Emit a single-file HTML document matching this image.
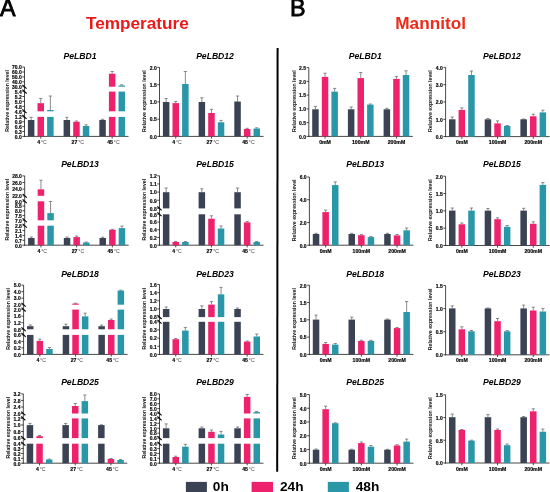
<!DOCTYPE html>
<html><head><meta charset="utf-8"><style>
html,body{margin:0;padding:0;background:#fff;}
svg{display:block;will-change:transform;}
text{font-family:"Liberation Sans",sans-serif;}
.ax{stroke:#1a1a1a;stroke-width:0.8;}
.br{stroke:#000;stroke-width:1.1;}
.eb{stroke:#6e6e6e;stroke-width:0.8;}
.tl{font-size:5px;font-weight:bold;text-anchor:end;fill:#000;stroke:#000;stroke-width:0.15px;}
.xl{font-size:5.2px;font-weight:bold;text-anchor:middle;fill:#000;stroke:#000;stroke-width:0.15px;}
.dg{font-weight:normal;fill:#444;stroke:none;}
.ti{font-size:8.6px;font-weight:bold;font-style:italic;text-anchor:middle;fill:#000;}
.yl{font-size:5.2px;font-weight:bold;text-anchor:middle;fill:#111;}
.hd{font-size:17.2px;font-weight:bold;text-anchor:middle;}
.pl{font-size:23.3px;font-weight:normal;fill:#000;stroke:#000;stroke-width:0.8px;}
.lg{font-size:13.7px;font-weight:bold;fill:#000;}
</style></head><body>
<svg width="550" height="492" viewBox="0 0 550 492">
<rect width="550" height="492" fill="#fff"/>
<text x="-0.1" y="15.6" class="pl">A</text>
<text x="290.1" y="15.7" class="pl">B</text>
<text x="137.4" y="28.9" class="hd" fill="#ea1a1a">Temperature</text>
<text x="430.6" y="28.9" class="hd" fill="#ee2a1a">Mannitol</text>
<line x1="277.6" y1="48" x2="277.2" y2="471.8" stroke="#000" stroke-width="2"/>
<line x1="24.5" y1="136.8" x2="24.5" y2="67.1" class="ax"/>
<line x1="22.4" y1="115" x2="26.6" y2="118.8" class="br"/>
<line x1="22.4" y1="109.4" x2="26.6" y2="113.2" class="br"/>
<line x1="22.4" y1="89.7" x2="26.6" y2="93.5" class="br"/>
<line x1="22.4" y1="84.8" x2="26.6" y2="88.6" class="br"/>
<line x1="22.3" y1="136.4" x2="24.5" y2="136.4" class="ax"/>
<text x="21.7" y="138.7" class="tl">0.0</text>
<line x1="22.3" y1="131.53" x2="24.5" y2="131.53" class="ax"/>
<text x="21.7" y="133.83" class="tl">0.3</text>
<line x1="22.3" y1="126.65" x2="24.5" y2="126.65" class="ax"/>
<text x="21.7" y="128.95" class="tl">0.6</text>
<line x1="22.3" y1="121.78" x2="24.5" y2="121.78" class="ax"/>
<text x="21.7" y="124.08" class="tl">0.9</text>
<line x1="22.3" y1="116.9" x2="24.5" y2="116.9" class="ax"/>
<text x="21.7" y="119.2" class="tl">1.2</text>
<line x1="22.3" y1="111.3" x2="24.5" y2="111.3" class="ax"/>
<text x="21.7" y="113.6" class="tl">4.6</text>
<line x1="22.3" y1="106.38" x2="24.5" y2="106.38" class="ax"/>
<text x="21.7" y="108.67" class="tl">4.8</text>
<line x1="22.3" y1="101.45" x2="24.5" y2="101.45" class="ax"/>
<text x="21.7" y="103.75" class="tl">5.0</text>
<line x1="22.3" y1="96.52" x2="24.5" y2="96.52" class="ax"/>
<text x="21.7" y="98.82" class="tl">5.2</text>
<line x1="22.3" y1="91.6" x2="24.5" y2="91.6" class="ax"/>
<text x="21.7" y="93.9" class="tl">5.4</text>
<line x1="22.3" y1="86.7" x2="24.5" y2="86.7" class="ax"/>
<text x="21.7" y="89" class="tl">30.0</text>
<line x1="22.3" y1="81.8" x2="24.5" y2="81.8" class="ax"/>
<text x="21.7" y="84.1" class="tl">40.0</text>
<line x1="22.3" y1="76.9" x2="24.5" y2="76.9" class="ax"/>
<text x="21.7" y="79.2" class="tl">50.0</text>
<line x1="22.3" y1="72" x2="24.5" y2="72" class="ax"/>
<text x="21.7" y="74.3" class="tl">60.0</text>
<line x1="22.3" y1="67.1" x2="24.5" y2="67.1" class="ax"/>
<text x="21.7" y="69.4" class="tl">70.0</text>
<line x1="24" y1="136.4" x2="128.5" y2="136.4" class="ax"/>
<line x1="40.75" y1="136.4" x2="40.75" y2="138.6" class="ax"/>
<text x="42.05" y="144.3" class="xl">4<tspan class="dg" dx="0.8">°C</tspan></text>
<line x1="76.45" y1="136.4" x2="76.45" y2="138.6" class="ax"/>
<text x="77.75" y="144.3" class="xl">27<tspan class="dg" dx="0.8">°C</tspan></text>
<line x1="112.15" y1="136.4" x2="112.15" y2="138.6" class="ax"/>
<text x="113.45" y="144.3" class="xl">45<tspan class="dg" dx="0.8">°C</tspan></text>
<line x1="31.15" y1="120" x2="31.15" y2="117.3" class="eb"/>
<line x1="29.55" y1="117.3" x2="32.75" y2="117.3" class="eb"/>
<rect x="27.9" y="120" width="6.5" height="16.4" fill="#3a4254"/>
<line x1="40.75" y1="103.2" x2="40.75" y2="98.5" class="eb"/>
<line x1="39.15" y1="98.5" x2="42.35" y2="98.5" class="eb"/>
<rect x="37.5" y="116.9" width="6.5" height="19.5" fill="#ee216c"/>
<rect x="37.5" y="103.2" width="6.5" height="8.1" fill="#ee216c"/>
<line x1="50.35" y1="110" x2="50.35" y2="96" class="eb"/>
<line x1="48.75" y1="96" x2="51.95" y2="96" class="eb"/>
<rect x="47.1" y="116.9" width="6.5" height="19.5" fill="#2a97a9"/>
<rect x="47.1" y="110" width="6.5" height="1.3" fill="#2a97a9"/>
<line x1="66.85" y1="120" x2="66.85" y2="117.3" class="eb"/>
<line x1="65.25" y1="117.3" x2="68.45" y2="117.3" class="eb"/>
<rect x="63.6" y="120" width="6.5" height="16.4" fill="#3a4254"/>
<line x1="76.45" y1="121.8" x2="76.45" y2="121" class="eb"/>
<line x1="74.85" y1="121" x2="78.05" y2="121" class="eb"/>
<rect x="73.2" y="121.8" width="6.5" height="14.6" fill="#ee216c"/>
<line x1="86.05" y1="126" x2="86.05" y2="124.8" class="eb"/>
<line x1="84.45" y1="124.8" x2="87.65" y2="124.8" class="eb"/>
<rect x="82.8" y="126" width="6.5" height="10.4" fill="#2a97a9"/>
<line x1="102.55" y1="120" x2="102.55" y2="119.3" class="eb"/>
<line x1="100.95" y1="119.3" x2="104.15" y2="119.3" class="eb"/>
<rect x="99.3" y="120" width="6.5" height="16.4" fill="#3a4254"/>
<line x1="112.15" y1="73.7" x2="112.15" y2="71.5" class="eb"/>
<line x1="110.55" y1="71.5" x2="113.75" y2="71.5" class="eb"/>
<rect x="108.9" y="116.9" width="6.5" height="19.5" fill="#ee216c"/>
<rect x="108.9" y="91.6" width="6.5" height="19.7" fill="#ee216c"/>
<rect x="108.9" y="73.7" width="6.5" height="13" fill="#ee216c"/>
<line x1="121.75" y1="85.5" x2="121.75" y2="84.8" class="eb"/>
<line x1="120.15" y1="84.8" x2="123.35" y2="84.8" class="eb"/>
<rect x="118.5" y="116.9" width="6.5" height="19.5" fill="#2a97a9"/>
<rect x="118.5" y="91.6" width="6.5" height="19.7" fill="#2a97a9"/>
<rect x="118.5" y="85.5" width="6.5" height="1.2" fill="#2a97a9"/>
<text x="80" y="58.8" class="ti">PeLBD1</text>
<text transform="translate(9,100.95) rotate(-90)" class="yl">Relative expression level</text>
<line x1="159.5" y1="136.8" x2="159.5" y2="67.4" class="ax"/>
<line x1="157.3" y1="136.4" x2="159.5" y2="136.4" class="ax"/>
<text x="156.7" y="138.7" class="tl">0.0</text>
<line x1="157.3" y1="119.15" x2="159.5" y2="119.15" class="ax"/>
<text x="156.7" y="121.45" class="tl">0.5</text>
<line x1="157.3" y1="101.9" x2="159.5" y2="101.9" class="ax"/>
<text x="156.7" y="104.2" class="tl">1.0</text>
<line x1="157.3" y1="84.65" x2="159.5" y2="84.65" class="ax"/>
<text x="156.7" y="86.95" class="tl">1.5</text>
<line x1="157.3" y1="67.4" x2="159.5" y2="67.4" class="ax"/>
<text x="156.7" y="69.7" class="tl">2.0</text>
<line x1="159" y1="136.4" x2="263.5" y2="136.4" class="ax"/>
<line x1="175.75" y1="136.4" x2="175.75" y2="138.6" class="ax"/>
<text x="177.05" y="144.3" class="xl">4<tspan class="dg" dx="0.8">°C</tspan></text>
<line x1="211.45" y1="136.4" x2="211.45" y2="138.6" class="ax"/>
<text x="212.75" y="144.3" class="xl">27<tspan class="dg" dx="0.8">°C</tspan></text>
<line x1="247.15" y1="136.4" x2="247.15" y2="138.6" class="ax"/>
<text x="248.45" y="144.3" class="xl">45<tspan class="dg" dx="0.8">°C</tspan></text>
<line x1="166.15" y1="102" x2="166.15" y2="98.5" class="eb"/>
<line x1="164.55" y1="98.5" x2="167.75" y2="98.5" class="eb"/>
<rect x="162.9" y="102" width="6.5" height="34.4" fill="#3a4254"/>
<line x1="175.75" y1="103.1" x2="175.75" y2="101.5" class="eb"/>
<line x1="174.15" y1="101.5" x2="177.35" y2="101.5" class="eb"/>
<rect x="172.5" y="103.1" width="6.5" height="33.3" fill="#ee216c"/>
<line x1="185.35" y1="84" x2="185.35" y2="71.5" class="eb"/>
<line x1="183.75" y1="71.5" x2="186.95" y2="71.5" class="eb"/>
<rect x="182.1" y="84" width="6.5" height="52.4" fill="#2a97a9"/>
<line x1="201.85" y1="102" x2="201.85" y2="97.8" class="eb"/>
<line x1="200.25" y1="97.8" x2="203.45" y2="97.8" class="eb"/>
<rect x="198.6" y="102" width="6.5" height="34.4" fill="#3a4254"/>
<line x1="211.45" y1="113" x2="211.45" y2="109.3" class="eb"/>
<line x1="209.85" y1="109.3" x2="213.05" y2="109.3" class="eb"/>
<rect x="208.2" y="113" width="6.5" height="23.4" fill="#ee216c"/>
<line x1="221.05" y1="122.3" x2="221.05" y2="120.4" class="eb"/>
<line x1="219.45" y1="120.4" x2="222.65" y2="120.4" class="eb"/>
<rect x="217.8" y="122.3" width="6.5" height="14.1" fill="#2a97a9"/>
<line x1="237.55" y1="101.5" x2="237.55" y2="96" class="eb"/>
<line x1="235.95" y1="96" x2="239.15" y2="96" class="eb"/>
<rect x="234.3" y="101.5" width="6.5" height="34.9" fill="#3a4254"/>
<line x1="247.15" y1="129" x2="247.15" y2="128.3" class="eb"/>
<line x1="245.55" y1="128.3" x2="248.75" y2="128.3" class="eb"/>
<rect x="243.9" y="129" width="6.5" height="7.4" fill="#ee216c"/>
<line x1="256.75" y1="128.5" x2="256.75" y2="127.8" class="eb"/>
<line x1="255.15" y1="127.8" x2="258.35" y2="127.8" class="eb"/>
<rect x="253.5" y="128.5" width="6.5" height="7.9" fill="#2a97a9"/>
<text x="215" y="58.8" class="ti">PeLBD12</text>
<text transform="translate(146.2,101.1) rotate(-90)" class="yl">Relative expression level</text>
<line x1="308.8" y1="136.8" x2="308.8" y2="67.6" class="ax"/>
<line x1="306.6" y1="136.4" x2="308.8" y2="136.4" class="ax"/>
<text x="306" y="138.7" class="tl">0.0</text>
<line x1="306.6" y1="122.64" x2="308.8" y2="122.64" class="ax"/>
<text x="306" y="124.94" class="tl">0.5</text>
<line x1="306.6" y1="108.88" x2="308.8" y2="108.88" class="ax"/>
<text x="306" y="111.18" class="tl">1.0</text>
<line x1="306.6" y1="95.12" x2="308.8" y2="95.12" class="ax"/>
<text x="306" y="97.42" class="tl">1.5</text>
<line x1="306.6" y1="81.36" x2="308.8" y2="81.36" class="ax"/>
<text x="306" y="83.66" class="tl">2.0</text>
<line x1="306.6" y1="67.6" x2="308.8" y2="67.6" class="ax"/>
<text x="306" y="69.9" class="tl">2.5</text>
<line x1="308.3" y1="136.4" x2="412.8" y2="136.4" class="ax"/>
<line x1="325.05" y1="136.4" x2="325.05" y2="138.6" class="ax"/>
<text x="325.05" y="144" class="xl">0mM</text>
<line x1="360.75" y1="136.4" x2="360.75" y2="138.6" class="ax"/>
<text x="360.75" y="144" class="xl">100mM</text>
<line x1="396.45" y1="136.4" x2="396.45" y2="138.6" class="ax"/>
<text x="396.45" y="144" class="xl">200mM</text>
<line x1="315.45" y1="109.3" x2="315.45" y2="106.4" class="eb"/>
<line x1="313.85" y1="106.4" x2="317.05" y2="106.4" class="eb"/>
<rect x="312.2" y="109.3" width="6.5" height="27.1" fill="#3a4254"/>
<line x1="325.05" y1="76.9" x2="325.05" y2="73.2" class="eb"/>
<line x1="323.45" y1="73.2" x2="326.65" y2="73.2" class="eb"/>
<rect x="321.8" y="76.9" width="6.5" height="59.5" fill="#ee216c"/>
<line x1="334.65" y1="91.6" x2="334.65" y2="88.4" class="eb"/>
<line x1="333.05" y1="88.4" x2="336.25" y2="88.4" class="eb"/>
<rect x="331.4" y="91.6" width="6.5" height="44.8" fill="#2a97a9"/>
<line x1="351.15" y1="109.3" x2="351.15" y2="107" class="eb"/>
<line x1="349.55" y1="107" x2="352.75" y2="107" class="eb"/>
<rect x="347.9" y="109.3" width="6.5" height="27.1" fill="#3a4254"/>
<line x1="360.75" y1="78.1" x2="360.75" y2="72.5" class="eb"/>
<line x1="359.15" y1="72.5" x2="362.35" y2="72.5" class="eb"/>
<rect x="357.5" y="78.1" width="6.5" height="58.3" fill="#ee216c"/>
<line x1="370.35" y1="104.6" x2="370.35" y2="104" class="eb"/>
<line x1="368.75" y1="104" x2="371.95" y2="104" class="eb"/>
<rect x="367.1" y="104.6" width="6.5" height="31.8" fill="#2a97a9"/>
<line x1="386.85" y1="109.3" x2="386.85" y2="108.3" class="eb"/>
<line x1="385.25" y1="108.3" x2="388.45" y2="108.3" class="eb"/>
<rect x="383.6" y="109.3" width="6.5" height="27.1" fill="#3a4254"/>
<line x1="396.45" y1="78.9" x2="396.45" y2="76.4" class="eb"/>
<line x1="394.85" y1="76.4" x2="398.05" y2="76.4" class="eb"/>
<rect x="393.2" y="78.9" width="6.5" height="57.5" fill="#ee216c"/>
<line x1="406.05" y1="75" x2="406.05" y2="70.8" class="eb"/>
<line x1="404.45" y1="70.8" x2="407.65" y2="70.8" class="eb"/>
<rect x="402.8" y="75" width="6.5" height="61.4" fill="#2a97a9"/>
<text x="365.2" y="58.8" class="ti">PeLBD1</text>
<text transform="translate(295.5,101.2) rotate(-90)" class="yl">Relative expression level</text>
<line x1="445.6" y1="137" x2="445.6" y2="67.4" class="ax"/>
<line x1="443.4" y1="136.6" x2="445.6" y2="136.6" class="ax"/>
<text x="442.8" y="138.9" class="tl">0.0</text>
<line x1="443.4" y1="119.3" x2="445.6" y2="119.3" class="ax"/>
<text x="442.8" y="121.6" class="tl">1.0</text>
<line x1="443.4" y1="102" x2="445.6" y2="102" class="ax"/>
<text x="442.8" y="104.3" class="tl">2.0</text>
<line x1="443.4" y1="84.7" x2="445.6" y2="84.7" class="ax"/>
<text x="442.8" y="87" class="tl">3.0</text>
<line x1="443.4" y1="67.4" x2="445.6" y2="67.4" class="ax"/>
<text x="442.8" y="69.7" class="tl">4.0</text>
<line x1="445.1" y1="136.6" x2="549.6" y2="136.6" class="ax"/>
<line x1="461.85" y1="136.6" x2="461.85" y2="138.8" class="ax"/>
<text x="461.85" y="144.2" class="xl">0mM</text>
<line x1="497.55" y1="136.6" x2="497.55" y2="138.8" class="ax"/>
<text x="497.55" y="144.2" class="xl">100mM</text>
<line x1="533.25" y1="136.6" x2="533.25" y2="138.8" class="ax"/>
<text x="533.25" y="144.2" class="xl">200mM</text>
<line x1="452.25" y1="119.3" x2="452.25" y2="117" class="eb"/>
<line x1="450.65" y1="117" x2="453.85" y2="117" class="eb"/>
<rect x="449" y="119.3" width="6.5" height="17.3" fill="#3a4254"/>
<line x1="461.85" y1="109.9" x2="461.85" y2="107.9" class="eb"/>
<line x1="460.25" y1="107.9" x2="463.45" y2="107.9" class="eb"/>
<rect x="458.6" y="109.9" width="6.5" height="26.7" fill="#ee216c"/>
<line x1="471.45" y1="75" x2="471.45" y2="71" class="eb"/>
<line x1="469.85" y1="71" x2="473.05" y2="71" class="eb"/>
<rect x="468.2" y="75" width="6.5" height="61.6" fill="#2a97a9"/>
<line x1="487.95" y1="119.3" x2="487.95" y2="118.5" class="eb"/>
<line x1="486.35" y1="118.5" x2="489.55" y2="118.5" class="eb"/>
<rect x="484.7" y="119.3" width="6.5" height="17.3" fill="#3a4254"/>
<line x1="497.55" y1="123.4" x2="497.55" y2="120.9" class="eb"/>
<line x1="495.95" y1="120.9" x2="499.15" y2="120.9" class="eb"/>
<rect x="494.3" y="123.4" width="6.5" height="13.2" fill="#ee216c"/>
<line x1="507.15" y1="125.9" x2="507.15" y2="125.5" class="eb"/>
<line x1="505.55" y1="125.5" x2="508.75" y2="125.5" class="eb"/>
<rect x="503.9" y="125.9" width="6.5" height="10.7" fill="#2a97a9"/>
<line x1="523.65" y1="119.3" x2="523.65" y2="119" class="eb"/>
<line x1="522.05" y1="119" x2="525.25" y2="119" class="eb"/>
<rect x="520.4" y="119.3" width="6.5" height="17.3" fill="#3a4254"/>
<line x1="533.25" y1="116.3" x2="533.25" y2="114.2" class="eb"/>
<line x1="531.65" y1="114.2" x2="534.85" y2="114.2" class="eb"/>
<rect x="530" y="116.3" width="6.5" height="20.3" fill="#ee216c"/>
<line x1="542.85" y1="112.4" x2="542.85" y2="110.2" class="eb"/>
<line x1="541.25" y1="110.2" x2="544.45" y2="110.2" class="eb"/>
<rect x="539.6" y="112.4" width="6.5" height="24.2" fill="#2a97a9"/>
<text x="501.9" y="58.8" class="ti">PeLBD12</text>
<text transform="translate(432.3,101.2) rotate(-90)" class="yl">Relative expression level</text>
<line x1="24.7" y1="245.6" x2="24.7" y2="175.9" class="ax"/>
<line x1="22.6" y1="223.8" x2="26.8" y2="227.6" class="br"/>
<line x1="22.6" y1="218.4" x2="26.8" y2="222.2" class="br"/>
<line x1="22.6" y1="199.4" x2="26.8" y2="203.2" class="br"/>
<line x1="22.6" y1="193.9" x2="26.8" y2="197.7" class="br"/>
<line x1="22.5" y1="245.2" x2="24.7" y2="245.2" class="ax"/>
<text x="21.9" y="247.5" class="tl">0.0</text>
<line x1="22.5" y1="240.32" x2="24.7" y2="240.32" class="ax"/>
<text x="21.9" y="242.62" class="tl">0.7</text>
<line x1="22.5" y1="235.45" x2="24.7" y2="235.45" class="ax"/>
<text x="21.9" y="237.75" class="tl">1.4</text>
<line x1="22.5" y1="230.57" x2="24.7" y2="230.57" class="ax"/>
<text x="21.9" y="232.88" class="tl">2.1</text>
<line x1="22.5" y1="225.7" x2="24.7" y2="225.7" class="ax"/>
<text x="21.9" y="228" class="tl">2.8</text>
<line x1="22.5" y1="220.3" x2="24.7" y2="220.3" class="ax"/>
<text x="21.9" y="222.6" class="tl">7.0</text>
<line x1="22.5" y1="215.55" x2="24.7" y2="215.55" class="ax"/>
<text x="21.9" y="217.85" class="tl">7.5</text>
<line x1="22.5" y1="210.8" x2="24.7" y2="210.8" class="ax"/>
<text x="21.9" y="213.1" class="tl">8.0</text>
<line x1="22.5" y1="206.05" x2="24.7" y2="206.05" class="ax"/>
<text x="21.9" y="208.35" class="tl">8.5</text>
<line x1="22.5" y1="201.3" x2="24.7" y2="201.3" class="ax"/>
<text x="21.9" y="203.6" class="tl">9.0</text>
<line x1="22.5" y1="195.8" x2="24.7" y2="195.8" class="ax"/>
<text x="21.9" y="198.1" class="tl">22.0</text>
<line x1="22.5" y1="189.17" x2="24.7" y2="189.17" class="ax"/>
<text x="21.9" y="191.47" class="tl">24.0</text>
<line x1="22.5" y1="182.53" x2="24.7" y2="182.53" class="ax"/>
<text x="21.9" y="184.83" class="tl">26.0</text>
<line x1="22.5" y1="175.9" x2="24.7" y2="175.9" class="ax"/>
<text x="21.9" y="178.2" class="tl">28.0</text>
<line x1="24.2" y1="245.2" x2="128.7" y2="245.2" class="ax"/>
<line x1="40.95" y1="245.2" x2="40.95" y2="247.4" class="ax"/>
<text x="42.25" y="253.1" class="xl">4<tspan class="dg" dx="0.8">°C</tspan></text>
<line x1="76.65" y1="245.2" x2="76.65" y2="247.4" class="ax"/>
<text x="77.95" y="253.1" class="xl">27<tspan class="dg" dx="0.8">°C</tspan></text>
<line x1="112.35" y1="245.2" x2="112.35" y2="247.4" class="ax"/>
<text x="113.65" y="253.1" class="xl">45<tspan class="dg" dx="0.8">°C</tspan></text>
<line x1="31.35" y1="238" x2="31.35" y2="237" class="eb"/>
<line x1="29.75" y1="237" x2="32.95" y2="237" class="eb"/>
<rect x="28.1" y="238" width="6.5" height="7.2" fill="#3a4254"/>
<line x1="40.95" y1="189.3" x2="40.95" y2="180.2" class="eb"/>
<line x1="39.35" y1="180.2" x2="42.55" y2="180.2" class="eb"/>
<rect x="37.7" y="225.7" width="6.5" height="19.5" fill="#ee216c"/>
<rect x="37.7" y="201.3" width="6.5" height="19" fill="#ee216c"/>
<rect x="37.7" y="189.3" width="6.5" height="6.5" fill="#ee216c"/>
<line x1="50.55" y1="213.1" x2="50.55" y2="201.5" class="eb"/>
<line x1="48.95" y1="201.5" x2="52.15" y2="201.5" class="eb"/>
<rect x="47.3" y="225.7" width="6.5" height="19.5" fill="#2a97a9"/>
<rect x="47.3" y="213.1" width="6.5" height="7.2" fill="#2a97a9"/>
<line x1="67.05" y1="238" x2="67.05" y2="237" class="eb"/>
<line x1="65.45" y1="237" x2="68.65" y2="237" class="eb"/>
<rect x="63.8" y="238" width="6.5" height="7.2" fill="#3a4254"/>
<line x1="76.65" y1="237.1" x2="76.65" y2="236" class="eb"/>
<line x1="75.05" y1="236" x2="78.25" y2="236" class="eb"/>
<rect x="73.4" y="237.1" width="6.5" height="8.1" fill="#ee216c"/>
<line x1="86.25" y1="242.5" x2="86.25" y2="242" class="eb"/>
<line x1="84.65" y1="242" x2="87.85" y2="242" class="eb"/>
<rect x="83" y="242.5" width="6.5" height="2.7" fill="#2a97a9"/>
<line x1="102.75" y1="238" x2="102.75" y2="237.2" class="eb"/>
<line x1="101.15" y1="237.2" x2="104.35" y2="237.2" class="eb"/>
<rect x="99.5" y="238" width="6.5" height="7.2" fill="#3a4254"/>
<line x1="112.35" y1="229.8" x2="112.35" y2="229.3" class="eb"/>
<line x1="110.75" y1="229.3" x2="113.95" y2="229.3" class="eb"/>
<rect x="109.1" y="229.8" width="6.5" height="15.4" fill="#ee216c"/>
<line x1="121.95" y1="228.1" x2="121.95" y2="226.1" class="eb"/>
<line x1="120.35" y1="226.1" x2="123.55" y2="226.1" class="eb"/>
<rect x="118.7" y="228.1" width="6.5" height="17.1" fill="#2a97a9"/>
<text x="80" y="167.3" class="ti">PeLBD13</text>
<text transform="translate(9.2,209.75) rotate(-90)" class="yl">Relative expression level</text>
<line x1="159.5" y1="245.6" x2="159.5" y2="175.8" class="ax"/>
<line x1="157.4" y1="212.4" x2="161.6" y2="216.2" class="br"/>
<line x1="157.4" y1="206.5" x2="161.6" y2="210.3" class="br"/>
<line x1="157.3" y1="245.2" x2="159.5" y2="245.2" class="ax"/>
<text x="156.7" y="247.5" class="tl">0.0</text>
<line x1="157.3" y1="237.47" x2="159.5" y2="237.47" class="ax"/>
<text x="156.7" y="239.78" class="tl">0.2</text>
<line x1="157.3" y1="229.75" x2="159.5" y2="229.75" class="ax"/>
<text x="156.7" y="232.05" class="tl">0.4</text>
<line x1="157.3" y1="222.03" x2="159.5" y2="222.03" class="ax"/>
<text x="156.7" y="224.33" class="tl">0.6</text>
<line x1="157.3" y1="214.3" x2="159.5" y2="214.3" class="ax"/>
<text x="156.7" y="216.6" class="tl">0.8</text>
<line x1="157.3" y1="208.4" x2="159.5" y2="208.4" class="ax"/>
<text x="156.7" y="210.7" class="tl">0.8</text>
<line x1="157.3" y1="200.25" x2="159.5" y2="200.25" class="ax"/>
<text x="156.7" y="202.55" class="tl">0.9</text>
<line x1="157.3" y1="192.1" x2="159.5" y2="192.1" class="ax"/>
<text x="156.7" y="194.4" class="tl">1.0</text>
<line x1="157.3" y1="183.95" x2="159.5" y2="183.95" class="ax"/>
<text x="156.7" y="186.25" class="tl">1.1</text>
<line x1="157.3" y1="175.8" x2="159.5" y2="175.8" class="ax"/>
<text x="156.7" y="178.1" class="tl">1.2</text>
<line x1="159" y1="245.2" x2="263.5" y2="245.2" class="ax"/>
<line x1="175.75" y1="245.2" x2="175.75" y2="247.4" class="ax"/>
<text x="177.05" y="253.1" class="xl">4<tspan class="dg" dx="0.8">°C</tspan></text>
<line x1="211.45" y1="245.2" x2="211.45" y2="247.4" class="ax"/>
<text x="212.75" y="253.1" class="xl">27<tspan class="dg" dx="0.8">°C</tspan></text>
<line x1="247.15" y1="245.2" x2="247.15" y2="247.4" class="ax"/>
<text x="248.45" y="253.1" class="xl">45<tspan class="dg" dx="0.8">°C</tspan></text>
<line x1="166.15" y1="192.2" x2="166.15" y2="188" class="eb"/>
<line x1="164.55" y1="188" x2="167.75" y2="188" class="eb"/>
<rect x="162.9" y="214.3" width="6.5" height="30.9" fill="#3a4254"/>
<rect x="162.9" y="192.2" width="6.5" height="16.2" fill="#3a4254"/>
<line x1="175.75" y1="242" x2="175.75" y2="241.5" class="eb"/>
<line x1="174.15" y1="241.5" x2="177.35" y2="241.5" class="eb"/>
<rect x="172.5" y="242" width="6.5" height="3.2" fill="#ee216c"/>
<line x1="185.35" y1="242" x2="185.35" y2="241.5" class="eb"/>
<line x1="183.75" y1="241.5" x2="186.95" y2="241.5" class="eb"/>
<rect x="182.1" y="242" width="6.5" height="3.2" fill="#2a97a9"/>
<line x1="201.85" y1="192.2" x2="201.85" y2="188.8" class="eb"/>
<line x1="200.25" y1="188.8" x2="203.45" y2="188.8" class="eb"/>
<rect x="198.6" y="214.3" width="6.5" height="30.9" fill="#3a4254"/>
<rect x="198.6" y="192.2" width="6.5" height="16.2" fill="#3a4254"/>
<line x1="211.45" y1="218.7" x2="211.45" y2="215.8" class="eb"/>
<line x1="209.85" y1="215.8" x2="213.05" y2="215.8" class="eb"/>
<rect x="208.2" y="218.7" width="6.5" height="26.5" fill="#ee216c"/>
<line x1="221.05" y1="228.5" x2="221.05" y2="226" class="eb"/>
<line x1="219.45" y1="226" x2="222.65" y2="226" class="eb"/>
<rect x="217.8" y="228.5" width="6.5" height="16.7" fill="#2a97a9"/>
<line x1="237.55" y1="192.2" x2="237.55" y2="188" class="eb"/>
<line x1="235.95" y1="188" x2="239.15" y2="188" class="eb"/>
<rect x="234.3" y="214.3" width="6.5" height="30.9" fill="#3a4254"/>
<rect x="234.3" y="192.2" width="6.5" height="16.2" fill="#3a4254"/>
<line x1="247.15" y1="222.4" x2="247.15" y2="221.5" class="eb"/>
<line x1="245.55" y1="221.5" x2="248.75" y2="221.5" class="eb"/>
<rect x="243.9" y="222.4" width="6.5" height="22.8" fill="#ee216c"/>
<line x1="256.75" y1="242" x2="256.75" y2="241.5" class="eb"/>
<line x1="255.15" y1="241.5" x2="258.35" y2="241.5" class="eb"/>
<rect x="253.5" y="242" width="6.5" height="3.2" fill="#2a97a9"/>
<text x="215" y="167.3" class="ti">PeLBD15</text>
<text transform="translate(146.2,209.7) rotate(-90)" class="yl">Relative expression level</text>
<line x1="309.4" y1="245.6" x2="309.4" y2="177" class="ax"/>
<line x1="307.2" y1="245.2" x2="309.4" y2="245.2" class="ax"/>
<text x="306.6" y="247.5" class="tl">0.0</text>
<line x1="307.2" y1="222.47" x2="309.4" y2="222.47" class="ax"/>
<text x="306.6" y="224.77" class="tl">2.0</text>
<line x1="307.2" y1="199.73" x2="309.4" y2="199.73" class="ax"/>
<text x="306.6" y="202.03" class="tl">4.0</text>
<line x1="307.2" y1="177" x2="309.4" y2="177" class="ax"/>
<text x="306.6" y="179.3" class="tl">6.0</text>
<line x1="308.9" y1="245.2" x2="413.4" y2="245.2" class="ax"/>
<line x1="325.65" y1="245.2" x2="325.65" y2="247.4" class="ax"/>
<text x="325.65" y="252.8" class="xl">0mM</text>
<line x1="361.35" y1="245.2" x2="361.35" y2="247.4" class="ax"/>
<text x="361.35" y="252.8" class="xl">100mM</text>
<line x1="397.05" y1="245.2" x2="397.05" y2="247.4" class="ax"/>
<text x="397.05" y="252.8" class="xl">200mM</text>
<line x1="316.05" y1="234" x2="316.05" y2="233.3" class="eb"/>
<line x1="314.45" y1="233.3" x2="317.65" y2="233.3" class="eb"/>
<rect x="312.8" y="234" width="6.5" height="11.2" fill="#3a4254"/>
<line x1="325.65" y1="212.1" x2="325.65" y2="210.1" class="eb"/>
<line x1="324.05" y1="210.1" x2="327.25" y2="210.1" class="eb"/>
<rect x="322.4" y="212.1" width="6.5" height="33.1" fill="#ee216c"/>
<line x1="335.25" y1="185.1" x2="335.25" y2="181.9" class="eb"/>
<line x1="333.65" y1="181.9" x2="336.85" y2="181.9" class="eb"/>
<rect x="332" y="185.1" width="6.5" height="60.1" fill="#2a97a9"/>
<line x1="351.75" y1="234" x2="351.75" y2="233.3" class="eb"/>
<line x1="350.15" y1="233.3" x2="353.35" y2="233.3" class="eb"/>
<rect x="348.5" y="234" width="6.5" height="11.2" fill="#3a4254"/>
<line x1="361.35" y1="235.2" x2="361.35" y2="234.6" class="eb"/>
<line x1="359.75" y1="234.6" x2="362.95" y2="234.6" class="eb"/>
<rect x="358.1" y="235.2" width="6.5" height="10" fill="#ee216c"/>
<line x1="370.95" y1="237.1" x2="370.95" y2="236.5" class="eb"/>
<line x1="369.35" y1="236.5" x2="372.55" y2="236.5" class="eb"/>
<rect x="367.7" y="237.1" width="6.5" height="8.1" fill="#2a97a9"/>
<line x1="387.45" y1="234" x2="387.45" y2="233.3" class="eb"/>
<line x1="385.85" y1="233.3" x2="389.05" y2="233.3" class="eb"/>
<rect x="384.2" y="234" width="6.5" height="11.2" fill="#3a4254"/>
<line x1="397.05" y1="235.4" x2="397.05" y2="234.5" class="eb"/>
<line x1="395.45" y1="234.5" x2="398.65" y2="234.5" class="eb"/>
<rect x="393.8" y="235.4" width="6.5" height="9.8" fill="#ee216c"/>
<line x1="406.65" y1="230.3" x2="406.65" y2="228" class="eb"/>
<line x1="405.05" y1="228" x2="408.25" y2="228" class="eb"/>
<rect x="403.4" y="230.3" width="6.5" height="14.9" fill="#2a97a9"/>
<text x="365.2" y="167.3" class="ti">PeLBD13</text>
<text transform="translate(296.1,210.3) rotate(-90)" class="yl">Relative expression level</text>
<line x1="445.6" y1="245.9" x2="445.6" y2="176.2" class="ax"/>
<line x1="443.4" y1="245.5" x2="445.6" y2="245.5" class="ax"/>
<text x="442.8" y="247.8" class="tl">0.0</text>
<line x1="443.4" y1="228.18" x2="445.6" y2="228.18" class="ax"/>
<text x="442.8" y="230.48" class="tl">0.5</text>
<line x1="443.4" y1="210.85" x2="445.6" y2="210.85" class="ax"/>
<text x="442.8" y="213.15" class="tl">1.0</text>
<line x1="443.4" y1="193.52" x2="445.6" y2="193.52" class="ax"/>
<text x="442.8" y="195.82" class="tl">1.5</text>
<line x1="443.4" y1="176.2" x2="445.6" y2="176.2" class="ax"/>
<text x="442.8" y="178.5" class="tl">2.0</text>
<line x1="445.1" y1="245.5" x2="549.6" y2="245.5" class="ax"/>
<line x1="461.85" y1="245.5" x2="461.85" y2="247.7" class="ax"/>
<text x="461.85" y="253.1" class="xl">0mM</text>
<line x1="497.55" y1="245.5" x2="497.55" y2="247.7" class="ax"/>
<text x="497.55" y="253.1" class="xl">100mM</text>
<line x1="533.25" y1="245.5" x2="533.25" y2="247.7" class="ax"/>
<text x="533.25" y="253.1" class="xl">200mM</text>
<line x1="452.25" y1="210.6" x2="452.25" y2="208" class="eb"/>
<line x1="450.65" y1="208" x2="453.85" y2="208" class="eb"/>
<rect x="449" y="210.6" width="6.5" height="34.9" fill="#3a4254"/>
<line x1="461.85" y1="224.3" x2="461.85" y2="223" class="eb"/>
<line x1="460.25" y1="223" x2="463.45" y2="223" class="eb"/>
<rect x="458.6" y="224.3" width="6.5" height="21.2" fill="#ee216c"/>
<line x1="471.45" y1="210.6" x2="471.45" y2="208" class="eb"/>
<line x1="469.85" y1="208" x2="473.05" y2="208" class="eb"/>
<rect x="468.2" y="210.6" width="6.5" height="34.9" fill="#2a97a9"/>
<line x1="487.95" y1="210.6" x2="487.95" y2="208.5" class="eb"/>
<line x1="486.35" y1="208.5" x2="489.55" y2="208.5" class="eb"/>
<rect x="484.7" y="210.6" width="6.5" height="34.9" fill="#3a4254"/>
<line x1="497.55" y1="219.2" x2="497.55" y2="217.8" class="eb"/>
<line x1="495.95" y1="217.8" x2="499.15" y2="217.8" class="eb"/>
<rect x="494.3" y="219.2" width="6.5" height="26.3" fill="#ee216c"/>
<line x1="507.15" y1="226.8" x2="507.15" y2="225.5" class="eb"/>
<line x1="505.55" y1="225.5" x2="508.75" y2="225.5" class="eb"/>
<rect x="503.9" y="226.8" width="6.5" height="18.7" fill="#2a97a9"/>
<line x1="523.65" y1="210.6" x2="523.65" y2="208.3" class="eb"/>
<line x1="522.05" y1="208.3" x2="525.25" y2="208.3" class="eb"/>
<rect x="520.4" y="210.6" width="6.5" height="34.9" fill="#3a4254"/>
<line x1="533.25" y1="223.8" x2="533.25" y2="221.8" class="eb"/>
<line x1="531.65" y1="221.8" x2="534.85" y2="221.8" class="eb"/>
<rect x="530" y="223.8" width="6.5" height="21.7" fill="#ee216c"/>
<line x1="542.85" y1="184.9" x2="542.85" y2="182.6" class="eb"/>
<line x1="541.25" y1="182.6" x2="544.45" y2="182.6" class="eb"/>
<rect x="539.6" y="184.9" width="6.5" height="60.6" fill="#2a97a9"/>
<text x="501.9" y="167.3" class="ti">PeLBD15</text>
<text transform="translate(432.3,210.05) rotate(-90)" class="yl">Relative expression level</text>
<line x1="23.6" y1="354.8" x2="23.6" y2="285.1" class="ax"/>
<line x1="21.5" y1="333" x2="25.7" y2="336.8" class="br"/>
<line x1="21.5" y1="327.4" x2="25.7" y2="331.2" class="br"/>
<line x1="21.5" y1="307.7" x2="25.7" y2="311.5" class="br"/>
<line x1="21.5" y1="302.8" x2="25.7" y2="306.6" class="br"/>
<line x1="21.4" y1="354.4" x2="23.6" y2="354.4" class="ax"/>
<text x="20.8" y="356.7" class="tl">0.0</text>
<line x1="21.4" y1="347.9" x2="23.6" y2="347.9" class="ax"/>
<text x="20.8" y="350.2" class="tl">0.2</text>
<line x1="21.4" y1="341.4" x2="23.6" y2="341.4" class="ax"/>
<text x="20.8" y="343.7" class="tl">0.4</text>
<line x1="21.4" y1="334.9" x2="23.6" y2="334.9" class="ax"/>
<text x="20.8" y="337.2" class="tl">0.6</text>
<line x1="21.4" y1="329.3" x2="23.6" y2="329.3" class="ax"/>
<text x="20.8" y="331.6" class="tl">0.8</text>
<line x1="21.4" y1="322.73" x2="23.6" y2="322.73" class="ax"/>
<text x="20.8" y="325.03" class="tl">1.2</text>
<line x1="21.4" y1="316.17" x2="23.6" y2="316.17" class="ax"/>
<text x="20.8" y="318.47" class="tl">1.6</text>
<line x1="21.4" y1="309.6" x2="23.6" y2="309.6" class="ax"/>
<text x="20.8" y="311.9" class="tl">2.0</text>
<line x1="21.4" y1="304.7" x2="23.6" y2="304.7" class="ax"/>
<text x="20.8" y="307" class="tl">2.0</text>
<line x1="21.4" y1="298.17" x2="23.6" y2="298.17" class="ax"/>
<text x="20.8" y="300.47" class="tl">3.0</text>
<line x1="21.4" y1="291.63" x2="23.6" y2="291.63" class="ax"/>
<text x="20.8" y="293.93" class="tl">4.0</text>
<line x1="21.4" y1="285.1" x2="23.6" y2="285.1" class="ax"/>
<text x="20.8" y="287.4" class="tl">5.0</text>
<line x1="23.1" y1="354.4" x2="127.6" y2="354.4" class="ax"/>
<line x1="39.85" y1="354.4" x2="39.85" y2="356.6" class="ax"/>
<text x="41.15" y="362.3" class="xl">4<tspan class="dg" dx="0.8">°C</tspan></text>
<line x1="75.55" y1="354.4" x2="75.55" y2="356.6" class="ax"/>
<text x="76.85" y="362.3" class="xl">27<tspan class="dg" dx="0.8">°C</tspan></text>
<line x1="111.25" y1="354.4" x2="111.25" y2="356.6" class="ax"/>
<text x="112.55" y="362.3" class="xl">45<tspan class="dg" dx="0.8">°C</tspan></text>
<line x1="30.25" y1="326.2" x2="30.25" y2="325" class="eb"/>
<line x1="28.65" y1="325" x2="31.85" y2="325" class="eb"/>
<rect x="27" y="334.9" width="6.5" height="19.5" fill="#3a4254"/>
<rect x="27" y="326.2" width="6.5" height="3.1" fill="#3a4254"/>
<line x1="39.85" y1="340.9" x2="39.85" y2="339.2" class="eb"/>
<line x1="38.25" y1="339.2" x2="41.45" y2="339.2" class="eb"/>
<rect x="36.6" y="340.9" width="6.5" height="13.5" fill="#ee216c"/>
<line x1="49.45" y1="349" x2="49.45" y2="347.5" class="eb"/>
<line x1="47.85" y1="347.5" x2="51.05" y2="347.5" class="eb"/>
<rect x="46.2" y="349" width="6.5" height="5.4" fill="#2a97a9"/>
<line x1="65.95" y1="326.2" x2="65.95" y2="324.2" class="eb"/>
<line x1="64.35" y1="324.2" x2="67.55" y2="324.2" class="eb"/>
<rect x="62.7" y="334.9" width="6.5" height="19.5" fill="#3a4254"/>
<rect x="62.7" y="326.2" width="6.5" height="3.1" fill="#3a4254"/>
<line x1="75.55" y1="303.6" x2="75.55" y2="303.2" class="eb"/>
<line x1="73.95" y1="303.2" x2="77.15" y2="303.2" class="eb"/>
<rect x="72.3" y="334.9" width="6.5" height="19.5" fill="#ee216c"/>
<rect x="72.3" y="309.6" width="6.5" height="19.7" fill="#ee216c"/>
<rect x="72.3" y="303.6" width="6.5" height="1.1" fill="#ee216c"/>
<line x1="85.15" y1="316.4" x2="85.15" y2="313.2" class="eb"/>
<line x1="83.55" y1="313.2" x2="86.75" y2="313.2" class="eb"/>
<rect x="81.9" y="334.9" width="6.5" height="19.5" fill="#2a97a9"/>
<rect x="81.9" y="316.4" width="6.5" height="12.9" fill="#2a97a9"/>
<line x1="101.65" y1="326.2" x2="101.65" y2="325" class="eb"/>
<line x1="100.05" y1="325" x2="103.25" y2="325" class="eb"/>
<rect x="98.4" y="334.9" width="6.5" height="19.5" fill="#3a4254"/>
<rect x="98.4" y="326.2" width="6.5" height="3.1" fill="#3a4254"/>
<line x1="111.25" y1="320" x2="111.25" y2="319" class="eb"/>
<line x1="109.65" y1="319" x2="112.85" y2="319" class="eb"/>
<rect x="108" y="334.9" width="6.5" height="19.5" fill="#ee216c"/>
<rect x="108" y="320" width="6.5" height="9.3" fill="#ee216c"/>
<line x1="120.85" y1="290.6" x2="120.85" y2="290.2" class="eb"/>
<line x1="119.25" y1="290.2" x2="122.45" y2="290.2" class="eb"/>
<rect x="117.6" y="334.9" width="6.5" height="19.5" fill="#2a97a9"/>
<rect x="117.6" y="309.6" width="6.5" height="19.7" fill="#2a97a9"/>
<rect x="117.6" y="290.6" width="6.5" height="14.1" fill="#2a97a9"/>
<text x="80" y="276.5" class="ti">PeLBD18</text>
<text transform="translate(10.3,318.95) rotate(-90)" class="yl">Relative expression level</text>
<line x1="159.5" y1="354.8" x2="159.5" y2="284.5" class="ax"/>
<line x1="157.4" y1="319.9" x2="161.6" y2="323.7" class="br"/>
<line x1="157.4" y1="315.2" x2="161.6" y2="319" class="br"/>
<line x1="157.3" y1="354.4" x2="159.5" y2="354.4" class="ax"/>
<text x="156.7" y="356.7" class="tl">0.0</text>
<line x1="157.3" y1="346.25" x2="159.5" y2="346.25" class="ax"/>
<text x="156.7" y="348.55" class="tl">0.1</text>
<line x1="157.3" y1="338.1" x2="159.5" y2="338.1" class="ax"/>
<text x="156.7" y="340.4" class="tl">0.2</text>
<line x1="157.3" y1="329.95" x2="159.5" y2="329.95" class="ax"/>
<text x="156.7" y="332.25" class="tl">0.3</text>
<line x1="157.3" y1="321.8" x2="159.5" y2="321.8" class="ax"/>
<text x="156.7" y="324.1" class="tl">0.4</text>
<line x1="157.3" y1="317.1" x2="159.5" y2="317.1" class="ax"/>
<text x="156.7" y="319.4" class="tl">0.8</text>
<line x1="157.3" y1="308.95" x2="159.5" y2="308.95" class="ax"/>
<text x="156.7" y="311.25" class="tl">1.0</text>
<line x1="157.3" y1="300.8" x2="159.5" y2="300.8" class="ax"/>
<text x="156.7" y="303.1" class="tl">1.2</text>
<line x1="157.3" y1="292.65" x2="159.5" y2="292.65" class="ax"/>
<text x="156.7" y="294.95" class="tl">1.4</text>
<line x1="157.3" y1="284.5" x2="159.5" y2="284.5" class="ax"/>
<text x="156.7" y="286.8" class="tl">1.6</text>
<line x1="159" y1="354.4" x2="263.5" y2="354.4" class="ax"/>
<line x1="175.75" y1="354.4" x2="175.75" y2="356.6" class="ax"/>
<text x="177.05" y="362.3" class="xl">4<tspan class="dg" dx="0.8">°C</tspan></text>
<line x1="211.45" y1="354.4" x2="211.45" y2="356.6" class="ax"/>
<text x="212.75" y="362.3" class="xl">27<tspan class="dg" dx="0.8">°C</tspan></text>
<line x1="247.15" y1="354.4" x2="247.15" y2="356.6" class="ax"/>
<text x="248.45" y="362.3" class="xl">45<tspan class="dg" dx="0.8">°C</tspan></text>
<line x1="166.15" y1="309" x2="166.15" y2="307" class="eb"/>
<line x1="164.55" y1="307" x2="167.75" y2="307" class="eb"/>
<rect x="162.9" y="321.8" width="6.5" height="32.6" fill="#3a4254"/>
<rect x="162.9" y="309" width="6.5" height="8.1" fill="#3a4254"/>
<line x1="175.75" y1="339.2" x2="175.75" y2="338.5" class="eb"/>
<line x1="174.15" y1="338.5" x2="177.35" y2="338.5" class="eb"/>
<rect x="172.5" y="339.2" width="6.5" height="15.2" fill="#ee216c"/>
<line x1="185.35" y1="330.6" x2="185.35" y2="327.4" class="eb"/>
<line x1="183.75" y1="327.4" x2="186.95" y2="327.4" class="eb"/>
<rect x="182.1" y="330.6" width="6.5" height="23.8" fill="#2a97a9"/>
<line x1="201.85" y1="309" x2="201.85" y2="305.8" class="eb"/>
<line x1="200.25" y1="305.8" x2="203.45" y2="305.8" class="eb"/>
<rect x="198.6" y="321.8" width="6.5" height="32.6" fill="#3a4254"/>
<rect x="198.6" y="309" width="6.5" height="8.1" fill="#3a4254"/>
<line x1="211.45" y1="304.6" x2="211.45" y2="301.6" class="eb"/>
<line x1="209.85" y1="301.6" x2="213.05" y2="301.6" class="eb"/>
<rect x="208.2" y="321.8" width="6.5" height="32.6" fill="#ee216c"/>
<rect x="208.2" y="304.6" width="6.5" height="12.5" fill="#ee216c"/>
<line x1="221.05" y1="294.3" x2="221.05" y2="287.4" class="eb"/>
<line x1="219.45" y1="287.4" x2="222.65" y2="287.4" class="eb"/>
<rect x="217.8" y="321.8" width="6.5" height="32.6" fill="#2a97a9"/>
<rect x="217.8" y="294.3" width="6.5" height="22.8" fill="#2a97a9"/>
<line x1="237.55" y1="309" x2="237.55" y2="308" class="eb"/>
<line x1="235.95" y1="308" x2="239.15" y2="308" class="eb"/>
<rect x="234.3" y="321.8" width="6.5" height="32.6" fill="#3a4254"/>
<rect x="234.3" y="309" width="6.5" height="8.1" fill="#3a4254"/>
<line x1="247.15" y1="341.6" x2="247.15" y2="341" class="eb"/>
<line x1="245.55" y1="341" x2="248.75" y2="341" class="eb"/>
<rect x="243.9" y="341.6" width="6.5" height="12.8" fill="#ee216c"/>
<line x1="256.75" y1="336.5" x2="256.75" y2="334" class="eb"/>
<line x1="255.15" y1="334" x2="258.35" y2="334" class="eb"/>
<rect x="253.5" y="336.5" width="6.5" height="17.9" fill="#2a97a9"/>
<text x="215" y="276.5" class="ti">PeLBD23</text>
<text transform="translate(146.2,318.65) rotate(-90)" class="yl">Relative expression level</text>
<line x1="309.4" y1="354.8" x2="309.4" y2="285.2" class="ax"/>
<line x1="307.2" y1="354.4" x2="309.4" y2="354.4" class="ax"/>
<text x="306.6" y="356.7" class="tl">0.0</text>
<line x1="307.2" y1="337.1" x2="309.4" y2="337.1" class="ax"/>
<text x="306.6" y="339.4" class="tl">0.5</text>
<line x1="307.2" y1="319.8" x2="309.4" y2="319.8" class="ax"/>
<text x="306.6" y="322.1" class="tl">1.0</text>
<line x1="307.2" y1="302.5" x2="309.4" y2="302.5" class="ax"/>
<text x="306.6" y="304.8" class="tl">1.5</text>
<line x1="307.2" y1="285.2" x2="309.4" y2="285.2" class="ax"/>
<text x="306.6" y="287.5" class="tl">2.0</text>
<line x1="308.9" y1="354.4" x2="413.4" y2="354.4" class="ax"/>
<line x1="325.65" y1="354.4" x2="325.65" y2="356.6" class="ax"/>
<text x="325.65" y="362" class="xl">0mM</text>
<line x1="361.35" y1="354.4" x2="361.35" y2="356.6" class="ax"/>
<text x="361.35" y="362" class="xl">100mM</text>
<line x1="397.05" y1="354.4" x2="397.05" y2="356.6" class="ax"/>
<text x="397.05" y="362" class="xl">200mM</text>
<line x1="316.05" y1="319.6" x2="316.05" y2="315.1" class="eb"/>
<line x1="314.45" y1="315.1" x2="317.65" y2="315.1" class="eb"/>
<rect x="312.8" y="319.6" width="6.5" height="34.8" fill="#3a4254"/>
<line x1="325.65" y1="343.9" x2="325.65" y2="342.5" class="eb"/>
<line x1="324.05" y1="342.5" x2="327.25" y2="342.5" class="eb"/>
<rect x="322.4" y="343.9" width="6.5" height="10.5" fill="#ee216c"/>
<line x1="335.25" y1="344.6" x2="335.25" y2="343.5" class="eb"/>
<line x1="333.65" y1="343.5" x2="336.85" y2="343.5" class="eb"/>
<rect x="332" y="344.6" width="6.5" height="9.8" fill="#2a97a9"/>
<line x1="351.75" y1="319.6" x2="351.75" y2="317.1" class="eb"/>
<line x1="350.15" y1="317.1" x2="353.35" y2="317.1" class="eb"/>
<rect x="348.5" y="319.6" width="6.5" height="34.8" fill="#3a4254"/>
<line x1="361.35" y1="340.9" x2="361.35" y2="340.2" class="eb"/>
<line x1="359.75" y1="340.2" x2="362.95" y2="340.2" class="eb"/>
<rect x="358.1" y="340.9" width="6.5" height="13.5" fill="#ee216c"/>
<line x1="370.95" y1="340.9" x2="370.95" y2="340.3" class="eb"/>
<line x1="369.35" y1="340.3" x2="372.55" y2="340.3" class="eb"/>
<rect x="367.7" y="340.9" width="6.5" height="13.5" fill="#2a97a9"/>
<line x1="387.45" y1="319.6" x2="387.45" y2="319" class="eb"/>
<line x1="385.85" y1="319" x2="389.05" y2="319" class="eb"/>
<rect x="384.2" y="319.6" width="6.5" height="34.8" fill="#3a4254"/>
<line x1="397.05" y1="328.1" x2="397.05" y2="327.5" class="eb"/>
<line x1="395.45" y1="327.5" x2="398.65" y2="327.5" class="eb"/>
<rect x="393.8" y="328.1" width="6.5" height="26.3" fill="#ee216c"/>
<line x1="406.65" y1="312" x2="406.65" y2="301.5" class="eb"/>
<line x1="405.05" y1="301.5" x2="408.25" y2="301.5" class="eb"/>
<rect x="403.4" y="312" width="6.5" height="42.4" fill="#2a97a9"/>
<text x="365.2" y="276.5" class="ti">PeLBD18</text>
<text transform="translate(296.1,319) rotate(-90)" class="yl">Relative expression level</text>
<line x1="445.6" y1="355.2" x2="445.6" y2="285.5" class="ax"/>
<line x1="443.4" y1="354.8" x2="445.6" y2="354.8" class="ax"/>
<text x="442.8" y="357.1" class="tl">0.0</text>
<line x1="443.4" y1="331.7" x2="445.6" y2="331.7" class="ax"/>
<text x="442.8" y="334" class="tl">0.5</text>
<line x1="443.4" y1="308.6" x2="445.6" y2="308.6" class="ax"/>
<text x="442.8" y="310.9" class="tl">1.0</text>
<line x1="443.4" y1="285.5" x2="445.6" y2="285.5" class="ax"/>
<text x="442.8" y="287.8" class="tl">1.5</text>
<line x1="445.1" y1="354.8" x2="549.6" y2="354.8" class="ax"/>
<line x1="461.85" y1="354.8" x2="461.85" y2="357" class="ax"/>
<text x="461.85" y="362.4" class="xl">0mM</text>
<line x1="497.55" y1="354.8" x2="497.55" y2="357" class="ax"/>
<text x="497.55" y="362.4" class="xl">100mM</text>
<line x1="533.25" y1="354.8" x2="533.25" y2="357" class="ax"/>
<text x="533.25" y="362.4" class="xl">200mM</text>
<line x1="452.25" y1="308.4" x2="452.25" y2="305.9" class="eb"/>
<line x1="450.65" y1="305.9" x2="453.85" y2="305.9" class="eb"/>
<rect x="449" y="308.4" width="6.5" height="46.4" fill="#3a4254"/>
<line x1="461.85" y1="329.3" x2="461.85" y2="326.8" class="eb"/>
<line x1="460.25" y1="326.8" x2="463.45" y2="326.8" class="eb"/>
<rect x="458.6" y="329.3" width="6.5" height="25.5" fill="#ee216c"/>
<line x1="471.45" y1="331.3" x2="471.45" y2="330.5" class="eb"/>
<line x1="469.85" y1="330.5" x2="473.05" y2="330.5" class="eb"/>
<rect x="468.2" y="331.3" width="6.5" height="23.5" fill="#2a97a9"/>
<line x1="487.95" y1="308.4" x2="487.95" y2="308" class="eb"/>
<line x1="486.35" y1="308" x2="489.55" y2="308" class="eb"/>
<rect x="484.7" y="308.4" width="6.5" height="46.4" fill="#3a4254"/>
<line x1="497.55" y1="321.2" x2="497.55" y2="318.5" class="eb"/>
<line x1="495.95" y1="318.5" x2="499.15" y2="318.5" class="eb"/>
<rect x="494.3" y="321.2" width="6.5" height="33.6" fill="#ee216c"/>
<line x1="507.15" y1="331.3" x2="507.15" y2="330.6" class="eb"/>
<line x1="505.55" y1="330.6" x2="508.75" y2="330.6" class="eb"/>
<rect x="503.9" y="331.3" width="6.5" height="23.5" fill="#2a97a9"/>
<line x1="523.65" y1="308.4" x2="523.65" y2="305.1" class="eb"/>
<line x1="522.05" y1="305.1" x2="525.25" y2="305.1" class="eb"/>
<rect x="520.4" y="308.4" width="6.5" height="46.4" fill="#3a4254"/>
<line x1="533.25" y1="310.5" x2="533.25" y2="307.2" class="eb"/>
<line x1="531.65" y1="307.2" x2="534.85" y2="307.2" class="eb"/>
<rect x="530" y="310.5" width="6.5" height="44.3" fill="#ee216c"/>
<line x1="542.85" y1="311.5" x2="542.85" y2="308.4" class="eb"/>
<line x1="541.25" y1="308.4" x2="544.45" y2="308.4" class="eb"/>
<rect x="539.6" y="311.5" width="6.5" height="43.3" fill="#2a97a9"/>
<text x="501.9" y="276.5" class="ti">PeLBD23</text>
<text transform="translate(432.3,319.35) rotate(-90)" class="yl">Relative expression level</text>
<line x1="23.3" y1="463.6" x2="23.3" y2="393.9" class="ax"/>
<line x1="21.2" y1="441.8" x2="25.4" y2="445.6" class="br"/>
<line x1="21.2" y1="436.2" x2="25.4" y2="440" class="br"/>
<line x1="21.2" y1="416.5" x2="25.4" y2="420.3" class="br"/>
<line x1="21.2" y1="411.6" x2="25.4" y2="415.4" class="br"/>
<line x1="21.1" y1="463.2" x2="23.3" y2="463.2" class="ax"/>
<text x="20.5" y="465.5" class="tl">0.0</text>
<line x1="21.1" y1="458.32" x2="23.3" y2="458.32" class="ax"/>
<text x="20.5" y="460.62" class="tl">0.1</text>
<line x1="21.1" y1="453.45" x2="23.3" y2="453.45" class="ax"/>
<text x="20.5" y="455.75" class="tl">0.2</text>
<line x1="21.1" y1="448.57" x2="23.3" y2="448.57" class="ax"/>
<text x="20.5" y="450.88" class="tl">0.3</text>
<line x1="21.1" y1="443.7" x2="23.3" y2="443.7" class="ax"/>
<text x="20.5" y="446" class="tl">0.4</text>
<line x1="21.1" y1="438.1" x2="23.3" y2="438.1" class="ax"/>
<text x="20.5" y="440.4" class="tl">0.6</text>
<line x1="21.1" y1="431.53" x2="23.3" y2="431.53" class="ax"/>
<text x="20.5" y="433.83" class="tl">0.8</text>
<line x1="21.1" y1="424.97" x2="23.3" y2="424.97" class="ax"/>
<text x="20.5" y="427.27" class="tl">1.0</text>
<line x1="21.1" y1="418.4" x2="23.3" y2="418.4" class="ax"/>
<text x="20.5" y="420.7" class="tl">1.2</text>
<line x1="21.1" y1="413.5" x2="23.3" y2="413.5" class="ax"/>
<text x="20.5" y="415.8" class="tl">2.0</text>
<line x1="21.1" y1="406.97" x2="23.3" y2="406.97" class="ax"/>
<text x="20.5" y="409.27" class="tl">2.4</text>
<line x1="21.1" y1="400.43" x2="23.3" y2="400.43" class="ax"/>
<text x="20.5" y="402.73" class="tl">2.8</text>
<line x1="21.1" y1="393.9" x2="23.3" y2="393.9" class="ax"/>
<text x="20.5" y="396.2" class="tl">3.2</text>
<line x1="22.8" y1="463.2" x2="127.3" y2="463.2" class="ax"/>
<line x1="39.55" y1="463.2" x2="39.55" y2="465.4" class="ax"/>
<text x="40.85" y="471.1" class="xl">4<tspan class="dg" dx="0.8">°C</tspan></text>
<line x1="75.25" y1="463.2" x2="75.25" y2="465.4" class="ax"/>
<text x="76.55" y="471.1" class="xl">27<tspan class="dg" dx="0.8">°C</tspan></text>
<line x1="110.95" y1="463.2" x2="110.95" y2="465.4" class="ax"/>
<text x="112.25" y="471.1" class="xl">45<tspan class="dg" dx="0.8">°C</tspan></text>
<line x1="29.95" y1="425.1" x2="29.95" y2="423.4" class="eb"/>
<line x1="28.35" y1="423.4" x2="31.55" y2="423.4" class="eb"/>
<rect x="26.7" y="443.7" width="6.5" height="19.5" fill="#3a4254"/>
<rect x="26.7" y="425.1" width="6.5" height="13" fill="#3a4254"/>
<line x1="39.55" y1="436.2" x2="39.55" y2="435.5" class="eb"/>
<line x1="37.95" y1="435.5" x2="41.15" y2="435.5" class="eb"/>
<rect x="36.3" y="443.7" width="6.5" height="19.5" fill="#ee216c"/>
<rect x="36.3" y="436.2" width="6.5" height="1.9" fill="#ee216c"/>
<line x1="49.15" y1="459.5" x2="49.15" y2="459" class="eb"/>
<line x1="47.55" y1="459" x2="50.75" y2="459" class="eb"/>
<rect x="45.9" y="459.5" width="6.5" height="3.7" fill="#2a97a9"/>
<line x1="65.65" y1="425.1" x2="65.65" y2="423.4" class="eb"/>
<line x1="64.05" y1="423.4" x2="67.25" y2="423.4" class="eb"/>
<rect x="62.4" y="443.7" width="6.5" height="19.5" fill="#3a4254"/>
<rect x="62.4" y="425.1" width="6.5" height="13" fill="#3a4254"/>
<line x1="75.25" y1="406" x2="75.25" y2="403.5" class="eb"/>
<line x1="73.65" y1="403.5" x2="76.85" y2="403.5" class="eb"/>
<rect x="72" y="443.7" width="6.5" height="19.5" fill="#ee216c"/>
<rect x="72" y="418.4" width="6.5" height="19.7" fill="#ee216c"/>
<rect x="72" y="406" width="6.5" height="7.5" fill="#ee216c"/>
<line x1="84.85" y1="401.1" x2="84.85" y2="395" class="eb"/>
<line x1="83.25" y1="395" x2="86.45" y2="395" class="eb"/>
<rect x="81.6" y="443.7" width="6.5" height="19.5" fill="#2a97a9"/>
<rect x="81.6" y="418.4" width="6.5" height="19.7" fill="#2a97a9"/>
<rect x="81.6" y="401.1" width="6.5" height="12.4" fill="#2a97a9"/>
<line x1="101.35" y1="425.1" x2="101.35" y2="424.8" class="eb"/>
<line x1="99.75" y1="424.8" x2="102.95" y2="424.8" class="eb"/>
<rect x="98.1" y="443.7" width="6.5" height="19.5" fill="#3a4254"/>
<rect x="98.1" y="425.1" width="6.5" height="13" fill="#3a4254"/>
<line x1="110.95" y1="459" x2="110.95" y2="458.5" class="eb"/>
<line x1="109.35" y1="458.5" x2="112.55" y2="458.5" class="eb"/>
<rect x="107.7" y="459" width="6.5" height="4.2" fill="#ee216c"/>
<line x1="120.55" y1="460" x2="120.55" y2="459.5" class="eb"/>
<line x1="118.95" y1="459.5" x2="122.15" y2="459.5" class="eb"/>
<rect x="117.3" y="460" width="6.5" height="3.2" fill="#2a97a9"/>
<text x="80" y="385.2" class="ti">PeLBD25</text>
<text transform="translate(10,427.75) rotate(-90)" class="yl">Relative expression level</text>
<line x1="159.5" y1="463.6" x2="159.5" y2="393.9" class="ax"/>
<line x1="157.4" y1="441.8" x2="161.6" y2="445.6" class="br"/>
<line x1="157.4" y1="436.2" x2="161.6" y2="440" class="br"/>
<line x1="157.4" y1="416.5" x2="161.6" y2="420.3" class="br"/>
<line x1="157.4" y1="411.6" x2="161.6" y2="415.4" class="br"/>
<line x1="157.3" y1="463.2" x2="159.5" y2="463.2" class="ax"/>
<text x="156.7" y="465.5" class="tl">0.0</text>
<line x1="157.3" y1="458.32" x2="159.5" y2="458.32" class="ax"/>
<text x="156.7" y="460.62" class="tl">0.1</text>
<line x1="157.3" y1="453.45" x2="159.5" y2="453.45" class="ax"/>
<text x="156.7" y="455.75" class="tl">0.2</text>
<line x1="157.3" y1="448.57" x2="159.5" y2="448.57" class="ax"/>
<text x="156.7" y="450.88" class="tl">0.3</text>
<line x1="157.3" y1="443.7" x2="159.5" y2="443.7" class="ax"/>
<text x="156.7" y="446" class="tl">0.4</text>
<line x1="157.3" y1="438.1" x2="159.5" y2="438.1" class="ax"/>
<text x="156.7" y="440.4" class="tl">0.6</text>
<line x1="157.3" y1="433.18" x2="159.5" y2="433.18" class="ax"/>
<text x="156.7" y="435.48" class="tl">0.8</text>
<line x1="157.3" y1="428.25" x2="159.5" y2="428.25" class="ax"/>
<text x="156.7" y="430.55" class="tl">1.0</text>
<line x1="157.3" y1="423.32" x2="159.5" y2="423.32" class="ax"/>
<text x="156.7" y="425.62" class="tl">1.2</text>
<line x1="157.3" y1="418.4" x2="159.5" y2="418.4" class="ax"/>
<text x="156.7" y="420.7" class="tl">1.4</text>
<line x1="157.3" y1="413.5" x2="159.5" y2="413.5" class="ax"/>
<text x="156.7" y="415.8" class="tl">4.0</text>
<line x1="157.3" y1="408.6" x2="159.5" y2="408.6" class="ax"/>
<text x="156.7" y="410.9" class="tl">5.0</text>
<line x1="157.3" y1="403.7" x2="159.5" y2="403.7" class="ax"/>
<text x="156.7" y="406" class="tl">6.0</text>
<line x1="157.3" y1="398.8" x2="159.5" y2="398.8" class="ax"/>
<text x="156.7" y="401.1" class="tl">7.0</text>
<line x1="157.3" y1="393.9" x2="159.5" y2="393.9" class="ax"/>
<text x="156.7" y="396.2" class="tl">8.0</text>
<line x1="159" y1="463.2" x2="263.5" y2="463.2" class="ax"/>
<line x1="175.75" y1="463.2" x2="175.75" y2="465.4" class="ax"/>
<text x="177.05" y="471.1" class="xl">4<tspan class="dg" dx="0.8">°C</tspan></text>
<line x1="211.45" y1="463.2" x2="211.45" y2="465.4" class="ax"/>
<text x="212.75" y="471.1" class="xl">27<tspan class="dg" dx="0.8">°C</tspan></text>
<line x1="247.15" y1="463.2" x2="247.15" y2="465.4" class="ax"/>
<text x="248.45" y="471.1" class="xl">45<tspan class="dg" dx="0.8">°C</tspan></text>
<line x1="166.15" y1="428.3" x2="166.15" y2="423.9" class="eb"/>
<line x1="164.55" y1="423.9" x2="167.75" y2="423.9" class="eb"/>
<rect x="162.9" y="443.7" width="6.5" height="19.5" fill="#3a4254"/>
<rect x="162.9" y="428.3" width="6.5" height="9.8" fill="#3a4254"/>
<line x1="175.75" y1="457" x2="175.75" y2="456.2" class="eb"/>
<line x1="174.15" y1="456.2" x2="177.35" y2="456.2" class="eb"/>
<rect x="172.5" y="457" width="6.5" height="6.2" fill="#ee216c"/>
<line x1="185.35" y1="446.7" x2="185.35" y2="444.3" class="eb"/>
<line x1="183.75" y1="444.3" x2="186.95" y2="444.3" class="eb"/>
<rect x="182.1" y="446.7" width="6.5" height="16.5" fill="#2a97a9"/>
<line x1="201.85" y1="428.3" x2="201.85" y2="427" class="eb"/>
<line x1="200.25" y1="427" x2="203.45" y2="427" class="eb"/>
<rect x="198.6" y="443.7" width="6.5" height="19.5" fill="#3a4254"/>
<rect x="198.6" y="428.3" width="6.5" height="9.8" fill="#3a4254"/>
<line x1="211.45" y1="431.8" x2="211.45" y2="430" class="eb"/>
<line x1="209.85" y1="430" x2="213.05" y2="430" class="eb"/>
<rect x="208.2" y="443.7" width="6.5" height="19.5" fill="#ee216c"/>
<rect x="208.2" y="431.8" width="6.5" height="6.3" fill="#ee216c"/>
<line x1="221.05" y1="434.5" x2="221.05" y2="431.4" class="eb"/>
<line x1="219.45" y1="431.4" x2="222.65" y2="431.4" class="eb"/>
<rect x="217.8" y="443.7" width="6.5" height="19.5" fill="#2a97a9"/>
<rect x="217.8" y="434.5" width="6.5" height="3.6" fill="#2a97a9"/>
<line x1="237.55" y1="428.3" x2="237.55" y2="427" class="eb"/>
<line x1="235.95" y1="427" x2="239.15" y2="427" class="eb"/>
<rect x="234.3" y="443.7" width="6.5" height="19.5" fill="#3a4254"/>
<rect x="234.3" y="428.3" width="6.5" height="9.8" fill="#3a4254"/>
<line x1="247.15" y1="396.9" x2="247.15" y2="394.5" class="eb"/>
<line x1="245.55" y1="394.5" x2="248.75" y2="394.5" class="eb"/>
<rect x="243.9" y="443.7" width="6.5" height="19.5" fill="#ee216c"/>
<rect x="243.9" y="418.4" width="6.5" height="19.7" fill="#ee216c"/>
<rect x="243.9" y="396.9" width="6.5" height="16.6" fill="#ee216c"/>
<line x1="256.75" y1="412.1" x2="256.75" y2="411.5" class="eb"/>
<line x1="255.15" y1="411.5" x2="258.35" y2="411.5" class="eb"/>
<rect x="253.5" y="443.7" width="6.5" height="19.5" fill="#2a97a9"/>
<rect x="253.5" y="418.4" width="6.5" height="19.7" fill="#2a97a9"/>
<rect x="253.5" y="412.1" width="6.5" height="1.4" fill="#2a97a9"/>
<text x="215" y="385.2" class="ti">PeLBD29</text>
<text transform="translate(146.2,427.75) rotate(-90)" class="yl">Relative expression level</text>
<line x1="309.4" y1="463.6" x2="309.4" y2="394.5" class="ax"/>
<line x1="307.2" y1="463.2" x2="309.4" y2="463.2" class="ax"/>
<text x="306.6" y="465.5" class="tl">0.0</text>
<line x1="307.2" y1="449.46" x2="309.4" y2="449.46" class="ax"/>
<text x="306.6" y="451.76" class="tl">1.0</text>
<line x1="307.2" y1="435.72" x2="309.4" y2="435.72" class="ax"/>
<text x="306.6" y="438.02" class="tl">2.0</text>
<line x1="307.2" y1="421.98" x2="309.4" y2="421.98" class="ax"/>
<text x="306.6" y="424.28" class="tl">3.0</text>
<line x1="307.2" y1="408.24" x2="309.4" y2="408.24" class="ax"/>
<text x="306.6" y="410.54" class="tl">4.0</text>
<line x1="307.2" y1="394.5" x2="309.4" y2="394.5" class="ax"/>
<text x="306.6" y="396.8" class="tl">5.0</text>
<line x1="308.9" y1="463.2" x2="413.4" y2="463.2" class="ax"/>
<line x1="325.65" y1="463.2" x2="325.65" y2="465.4" class="ax"/>
<text x="325.65" y="470.8" class="xl">0mM</text>
<line x1="361.35" y1="463.2" x2="361.35" y2="465.4" class="ax"/>
<text x="361.35" y="470.8" class="xl">100mM</text>
<line x1="397.05" y1="463.2" x2="397.05" y2="465.4" class="ax"/>
<text x="397.05" y="470.8" class="xl">200mM</text>
<line x1="316.05" y1="449.7" x2="316.05" y2="449" class="eb"/>
<line x1="314.45" y1="449" x2="317.65" y2="449" class="eb"/>
<rect x="312.8" y="449.7" width="6.5" height="13.5" fill="#3a4254"/>
<line x1="325.65" y1="409.2" x2="325.65" y2="406.2" class="eb"/>
<line x1="324.05" y1="406.2" x2="327.25" y2="406.2" class="eb"/>
<rect x="322.4" y="409.2" width="6.5" height="54" fill="#ee216c"/>
<line x1="335.25" y1="423.2" x2="335.25" y2="422.8" class="eb"/>
<line x1="333.65" y1="422.8" x2="336.85" y2="422.8" class="eb"/>
<rect x="332" y="423.2" width="6.5" height="40" fill="#2a97a9"/>
<line x1="351.75" y1="449.7" x2="351.75" y2="449.2" class="eb"/>
<line x1="350.15" y1="449.2" x2="353.35" y2="449.2" class="eb"/>
<rect x="348.5" y="449.7" width="6.5" height="13.5" fill="#3a4254"/>
<line x1="361.35" y1="443.1" x2="361.35" y2="442" class="eb"/>
<line x1="359.75" y1="442" x2="362.95" y2="442" class="eb"/>
<rect x="358.1" y="443.1" width="6.5" height="20.1" fill="#ee216c"/>
<line x1="370.95" y1="446.7" x2="370.95" y2="445.5" class="eb"/>
<line x1="369.35" y1="445.5" x2="372.55" y2="445.5" class="eb"/>
<rect x="367.7" y="446.7" width="6.5" height="16.5" fill="#2a97a9"/>
<line x1="387.45" y1="449.7" x2="387.45" y2="449.3" class="eb"/>
<line x1="385.85" y1="449.3" x2="389.05" y2="449.3" class="eb"/>
<rect x="384.2" y="449.7" width="6.5" height="13.5" fill="#3a4254"/>
<line x1="397.05" y1="445.5" x2="397.05" y2="444.7" class="eb"/>
<line x1="395.45" y1="444.7" x2="398.65" y2="444.7" class="eb"/>
<rect x="393.8" y="445.5" width="6.5" height="17.7" fill="#ee216c"/>
<line x1="406.65" y1="441.6" x2="406.65" y2="439.1" class="eb"/>
<line x1="405.05" y1="439.1" x2="408.25" y2="439.1" class="eb"/>
<rect x="403.4" y="441.6" width="6.5" height="21.6" fill="#2a97a9"/>
<text x="365.2" y="385.2" class="ti">PeLBD25</text>
<text transform="translate(296.1,428.05) rotate(-90)" class="yl">Relative expression level</text>
<line x1="445.6" y1="463.4" x2="445.6" y2="394.8" class="ax"/>
<line x1="443.4" y1="463" x2="445.6" y2="463" class="ax"/>
<text x="442.8" y="465.3" class="tl">0.0</text>
<line x1="443.4" y1="440.27" x2="445.6" y2="440.27" class="ax"/>
<text x="442.8" y="442.57" class="tl">0.5</text>
<line x1="443.4" y1="417.53" x2="445.6" y2="417.53" class="ax"/>
<text x="442.8" y="419.83" class="tl">1.0</text>
<line x1="443.4" y1="394.8" x2="445.6" y2="394.8" class="ax"/>
<text x="442.8" y="397.1" class="tl">1.5</text>
<line x1="445.1" y1="463" x2="549.6" y2="463" class="ax"/>
<line x1="461.85" y1="463" x2="461.85" y2="465.2" class="ax"/>
<text x="461.85" y="470.6" class="xl">0mM</text>
<line x1="497.55" y1="463" x2="497.55" y2="465.2" class="ax"/>
<text x="497.55" y="470.6" class="xl">100mM</text>
<line x1="533.25" y1="463" x2="533.25" y2="465.2" class="ax"/>
<text x="533.25" y="470.6" class="xl">200mM</text>
<line x1="452.25" y1="417.2" x2="452.25" y2="414.1" class="eb"/>
<line x1="450.65" y1="414.1" x2="453.85" y2="414.1" class="eb"/>
<rect x="449" y="417.2" width="6.5" height="45.8" fill="#3a4254"/>
<line x1="461.85" y1="429.9" x2="461.85" y2="429.5" class="eb"/>
<line x1="460.25" y1="429.5" x2="463.45" y2="429.5" class="eb"/>
<rect x="458.6" y="429.9" width="6.5" height="33.1" fill="#ee216c"/>
<line x1="471.45" y1="440.6" x2="471.45" y2="440.2" class="eb"/>
<line x1="469.85" y1="440.2" x2="473.05" y2="440.2" class="eb"/>
<rect x="468.2" y="440.6" width="6.5" height="22.4" fill="#2a97a9"/>
<line x1="487.95" y1="417.2" x2="487.95" y2="414.6" class="eb"/>
<line x1="486.35" y1="414.6" x2="489.55" y2="414.6" class="eb"/>
<rect x="484.7" y="417.2" width="6.5" height="45.8" fill="#3a4254"/>
<line x1="497.55" y1="429.9" x2="497.55" y2="429" class="eb"/>
<line x1="495.95" y1="429" x2="499.15" y2="429" class="eb"/>
<rect x="494.3" y="429.9" width="6.5" height="33.1" fill="#ee216c"/>
<line x1="507.15" y1="445.2" x2="507.15" y2="444" class="eb"/>
<line x1="505.55" y1="444" x2="508.75" y2="444" class="eb"/>
<rect x="503.9" y="445.2" width="6.5" height="17.8" fill="#2a97a9"/>
<line x1="523.65" y1="417.2" x2="523.65" y2="416.5" class="eb"/>
<line x1="522.05" y1="416.5" x2="525.25" y2="416.5" class="eb"/>
<rect x="520.4" y="417.2" width="6.5" height="45.8" fill="#3a4254"/>
<line x1="533.25" y1="411.3" x2="533.25" y2="408.8" class="eb"/>
<line x1="531.65" y1="408.8" x2="534.85" y2="408.8" class="eb"/>
<rect x="530" y="411.3" width="6.5" height="51.7" fill="#ee216c"/>
<line x1="542.85" y1="431.7" x2="542.85" y2="429.1" class="eb"/>
<line x1="541.25" y1="429.1" x2="544.45" y2="429.1" class="eb"/>
<rect x="539.6" y="431.7" width="6.5" height="31.3" fill="#2a97a9"/>
<text x="501.9" y="385.2" class="ti">PeLBD29</text>
<text transform="translate(432.3,428.1) rotate(-90)" class="yl">Relative expression level</text>
<rect x="185.9" y="481.9" width="21" height="12" fill="#3a4254"/>
<text x="212.8" y="491.1" class="lg">0h</text>
<rect x="251.6" y="481.9" width="21.4" height="12" fill="#ee216c"/>
<text x="280" y="491.1" class="lg">24h</text>
<rect x="327.8" y="481.9" width="21.1" height="12" fill="#2a97a9"/>
<text x="355.7" y="491.1" class="lg">48h</text>
</svg>
</body></html>
